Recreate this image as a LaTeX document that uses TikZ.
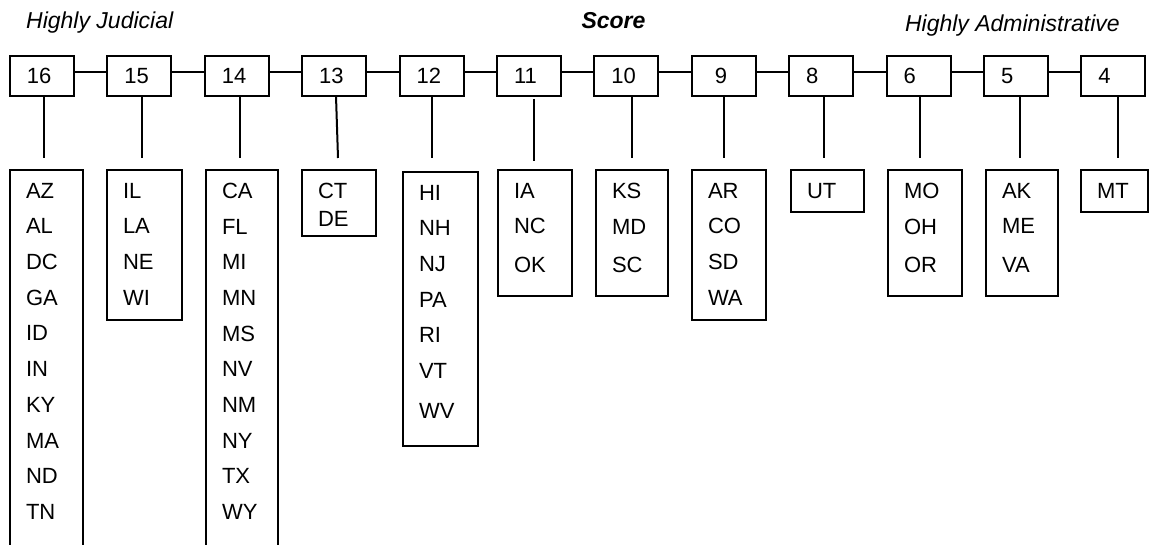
\documentclass[tikz,border=0pt]{standalone}
\usepackage{fontspec}
\setmainfont{Liberation Sans}
\usepackage{tikz}
\usetikzlibrary{positioning}
\newcommand{\statesize}{\fontsize{22}{35.7}\selectfont}
\newcommand{\titlesize}{\fontsize{23}{28}\selectfont}
\newcommand{\stepscore}{97.4}
\tikzset{
    common/.style={anchor=north west, draw, rectangle, line width=2pt, inner sep=0pt, outer sep=0pt},
    score/.style={common, minimum height=40, inner xsep=17pt, text width=30pt, align=left, font=\statesize},
    statebox/.style={common},
    statelist/.style={anchor=north west, inner sep=0pt, outer sep=0pt, align=left, font=\statesize},
    heading/.style={inner sep=0pt, font=\titlesize},
    link/.style={line width=2pt}
}
\begin{document}
\begin{tikzpicture}[x=1pt, y=-1pt]
                \useasboundingbox (0,0) rectangle (1149,545);
                \clip (0,0) rectangle (1149,545);

                \node[heading, anchor=base west] (judicial) at (26,28.5) {\itshape Highly Judicial};
                \node[heading, anchor=base] (scoretitle) at (613.5,28.5) {\bfseries\itshape Score};
                \node[heading, anchor=base east] (admin) at (1120,31.7) {\itshape Highly Administrative};

                \path
                    (10,56) node[score] (s16) {16}
                    to ++(0:\stepscore) node[score] (s15) {15}
                    to ++(0:\stepscore) node[score] (s14) {14}
                    to ++(0:\stepscore) node[score] (s13) {13}
                    to ++(0:\stepscore) node[score] (s12) {12}
                    to ++(0:\stepscore) node[score] (s11) {11}
                    to ++(0:\stepscore) node[score] (s10) {10}
                    to ++(0:\stepscore) node[score] (s9) {\hspace*{6pt}9}
                    to ++(0:\stepscore) node[score] (s8) {8}
                    to ++(0:\stepscore) node[score] (s6) {6}
                    to ++(0:\stepscore) node[score] (s5) {5}
                    to ++(0:\stepscore) node[score] (s4) {4};

                \node[statebox, minimum width=73, minimum height=400] (b16) at (10,170) {};
                \node[statebox, minimum width=75, minimum height=150] (b15) at (107,170) {};
                \node[statebox, minimum width=72, minimum height=400] (b14) at (206,170) {};
                \node[statebox, minimum width=74, minimum height=66] (b13) at (302,170) {};
                \node[statebox, minimum width=75, minimum height=274] (b12) at (403,172) {};
                \node[statebox, minimum width=74, minimum height=126] (b11) at (498,170) {};
                \node[statebox, minimum width=72, minimum height=126] (b10) at (596,170) {};
                \node[statebox, minimum width=74, minimum height=150] (b9) at (692,170) {};
                \node[statebox, minimum width=73, minimum height=42] (b8) at (791,170) {};
                \node[statebox, minimum width=74, minimum height=126] (b6) at (888,170) {};
                \node[statebox, minimum width=72, minimum height=126] (b5) at (986,170) {};
                \node[statebox, minimum width=67, minimum height=42] (b4) at (1081,170) {};

                \node[statelist] (l16) at ([shift={(16,13)}]b16.north west) {AZ\\AL\\DC\\GA\\ID\\IN\\KY\\MA\\ND\\TN};
                \node[statelist] (l15) at ([shift={(16,13)}]b15.north west) {IL\\LA\\NE\\WI};
                \node[statelist] (l14) at ([shift={(16,13)}]b14.north west) {CA\\FL\\MI\\MN\\MS\\NV\\NM\\NY\\TX\\WY};
                \node[statelist, font=\fontsize{22}{28}\selectfont] (l13) at ([shift={(16,13)}]b13.north west) {CT\\DE};
                \node[statelist] (l12) at ([shift={(16,13)}]b12.north west) {HI\\NH\\NJ\\PA\\RI\\VT\\[4pt]WV};
                \node[statelist] (l11) at ([shift={(16,13)}]b11.north west) {IA\\NC\\[3pt]OK};
                \node[statelist] (l10) at ([shift={(16,13)}]b10.north west) {KS\\MD\\[3pt]SC};
                \node[statelist] (l9) at ([shift={(16,13)}]b9.north west) {AR\\CO\\SD\\WA};
                \node[statelist] (l8) at ([shift={(16,13)}]b8.north west) {UT};
                \node[statelist] (l6) at ([shift={(16,13)}]b6.north west) {MO\\OH\\[3pt]OR};
                \node[statelist] (l5) at ([shift={(16,13)}]b5.north west) {AK\\ME\\[3pt]VA};
                \node[statelist] (l4) at ([shift={(16,13)}]b4.north west) {MT};

                \draw[link] ([yshift=4pt]s16.east) -- ([yshift=4pt]s15.west) ([yshift=4pt]s15.east) -- ([yshift=4pt]s14.west)
                    ([yshift=4pt]s14.east) -- ([yshift=4pt]s13.west) ([yshift=4pt]s13.east) -- ([yshift=4pt]s12.west);
                \draw[link] ([yshift=4pt]s12.east) -- ([yshift=4pt]s11.west) ([yshift=4pt]s11.east) -- ([yshift=4pt]s10.west)
                    ([yshift=4pt]s10.east) -- ([yshift=4pt]s9.west) ([yshift=4pt]s9.east) -- ([yshift=4pt]s8.west);
                \draw[link] ([yshift=4pt]s8.east) -- ([yshift=4pt]s6.west) ([yshift=4pt]s6.east) -- ([yshift=4pt]s5.west)
                    ([yshift=4pt]s5.east) -- ([yshift=4pt]s4.west);

                \draw[link] ([xshift=2pt]s16.south) -- ++(0,62);
                \draw[link] ([xshift=2.6pt]s15.south) -- ++(0,62);
                \draw[link] ([xshift=3.2pt]s14.south) -- ++(0,62);
                \draw[link] ([xshift=1.8pt]s13.south) -- ++(2,62);
                \draw[link] ([xshift=0.4pt]s12.south) -- ++(0,62);
                \draw[link] ([xshift=5pt,yshift=-3pt]s11.south) -- ++(0,62);
                \draw[link] ([xshift=5.6pt]s10.south) -- ++(0,62);
                \draw[link] ([xshift=0.2pt]s9.south) -- ++(0,62);
                \draw[link] ([xshift=2.8pt]s8.south) -- ++(0,62);
                \draw[link] ([xshift=1.4pt]s6.south) -- ++(0,62);
                \draw[link] ([xshift=4pt]s5.south) -- ++(0,62);
                \draw[link] ([xshift=4.6pt]s4.south) -- ++(0,62);

            \end{tikzpicture}
\end{document}
